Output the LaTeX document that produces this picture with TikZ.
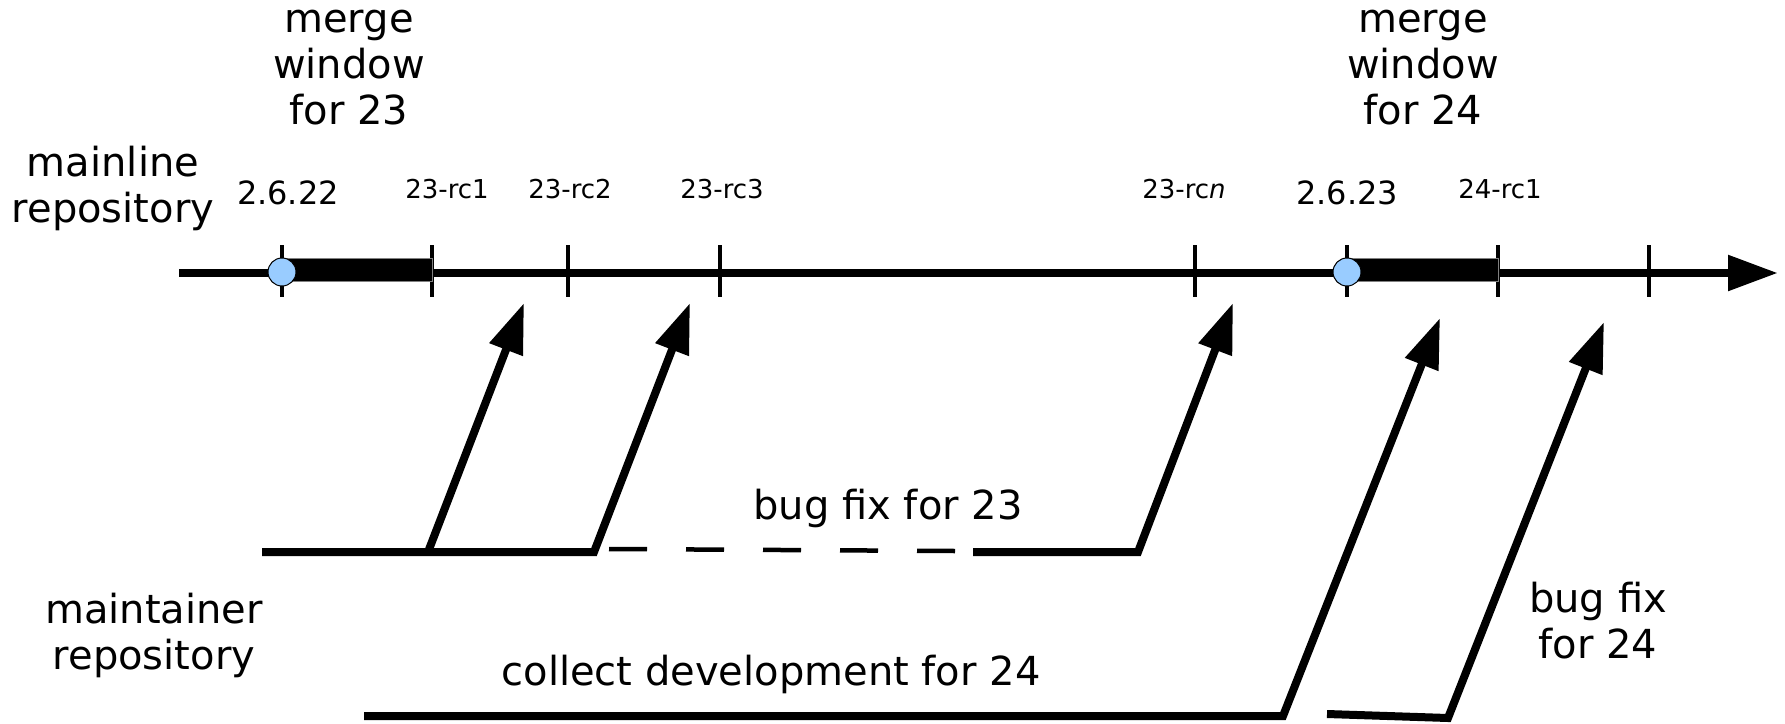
\documentclass[tikz,border=0pt]{standalone}
\usepackage{fontspec}
\setmainfont{DejaVu Sans}
\usetikzlibrary{arrows.meta}
\definecolor{relblue}{RGB}{153,204,255}

\begin{document}
\begin{tikzpicture}[x=1pt,y=-1pt,
  big/.style={font=\fontsize{40}{46}\selectfont,align=center},
  tag/.style={font=\fontsize{26}{30}\selectfont},
  ver/.style={font=\fontsize{32}{36}\selectfont},
  fix/.style={line width=8pt,-{Triangle[length=50pt,width=34pt]}}]
\useasboundingbox (0,0) rectangle (1785,723);

% mainline
\coordinate (start) at (179,273);
\coordinate (end) at (1778,273);
\draw[line width=8.5pt,-{Triangle[length=50pt,width=34pt]}] (start) -- (end);

\foreach \x in {282,432,568,720,1195,1347,1498,1649}
  \draw[line width=3.5pt] (\x,245) -- (\x,297);

\filldraw[black,draw=gray] (282,258) rectangle (432,281);
\filldraw[black,draw=gray] (1347,258) rectangle (1498,281);

\filldraw[fill=relblue,draw=black,line width=1pt] (282,272) circle (14);
\filldraw[fill=relblue,draw=black,line width=1pt] (1347,272) circle (14);

\node [ver] (v22) at (288,193) {2.6.22};
\node [tag] (rc1) at (447,189) {23-rc1};
\node [tag] (rc2) at (570,189) {23-rc2};
\node [tag] (rc3) at (722,189) {23-rc3};
\node [tag] (rcn) at (1184,189) {23-rc\textit{n}};
\node [ver] (v23) at (1347,193) {2.6.23};
\node [tag] (rcb) at (1500,189) {24-rc1};

\node [big] (mergeA) at (349,68) {merge\\window\\for 23};
\node [big] (mergeB) at (1423,68) {merge\\window\\for 24};
\node [big] (mainline) at (113,188) {mainline\\repository};
\node [big] (maint) at (154,635) {maintainer\\repository};

% maintainer side
\coordinate (fixA) at (428,552);
\coordinate (fixB) at (594,552);
\coordinate (fixC) at (1138,552);
\coordinate (devA) at (1283,716);
\coordinate (fixD) at (1448,718);

\draw[fix] (262,552) -- (fixB) -- (690,303);
\draw[fix] (fixA) -- (524,303);
\draw[line width=4.5pt,dash pattern=on 38pt off 39pt] (609,549) -- (955,551);
\draw[fix] (973,552) -- (fixC) -- (1233,303);
\draw[fix] (364,716) -- (devA) -- (1440,318);
\draw[fix] (1327,714) -- (fixD) -- (1604,322);

\node [big] (bugA) at (888,508) {bug fix for 23};
\node [big] (dev) at (771,674) {collect development for 24};
\node [big] (bugB) at (1598,621) {bug fix\\for 24};
\end{tikzpicture}
\end{document}
